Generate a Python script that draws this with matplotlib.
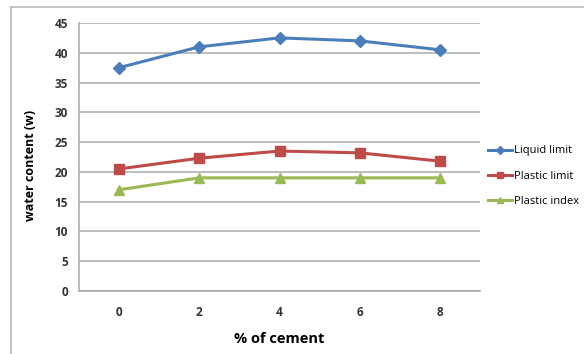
import matplotlib.pyplot as plt
from matplotlib.lines import Line2D

# data
cement = [0, 2, 4, 6, 8]
liquid_limit = [37.5, 41.0, 42.5, 42.0, 40.5]
plastic_limit = [20.5, 22.3, 23.5, 23.2, 21.8]
plastic_index = [17.0, 19.0, 19.0, 19.0, 19.0]

plt.rcParams['font.family'] = ['Open Sans', 'DejaVu Sans']

fig = plt.figure(figsize=(5.84, 3.54), dpi=100)
ax = fig.add_axes([79/584, 63/354, 401/584, 268/354])

ax.plot(cement, liquid_limit, color='#4a7ebb', lw=2.2, marker='D', ms=6, label='Liquid limit')
ax.plot(cement, plastic_limit, color='#be4b48', lw=2.2, marker='s', ms=7, label='Plastic limit')
ax.plot(cement, plastic_index, color='#98b954', lw=2.2, marker='^', ms=7, label='Plastic index')

ax.set_xlim(-1, 9)
ax.set_ylim(0, 45)
ax.set_yticks(range(0, 46, 5))
ax.set_xticks(cement)
ax.grid(axis='y', color='#b0b0b0', lw=1.2)
ax.set_axisbelow(True)
for s in ['top', 'right']:
    ax.spines[s].set_visible(False)
for s in ['left', 'bottom']:
    ax.spines[s].set_color('#b0b0b0')
    ax.spines[s].set_linewidth(1.2)
ax.tick_params(axis='y', length=0, pad=8, labelsize=8.5, labelcolor='#333333')
ax.tick_params(axis='x', length=0, pad=11, labelsize=8.5, labelcolor='#333333')
for t in ax.get_xticklabels() + ax.get_yticklabels():
    t.set_fontweight('bold')

ax.set_ylabel('water content (w)', fontsize=9, fontweight='bold')
ax.yaxis.set_label_coords(-42/401, 0.47)
ax.set_xlabel('% of cement', fontsize=10.5, fontweight='bold', labelpad=9)

fig.legend(loc='upper left', bbox_to_anchor=(484/584, 1 - 141/354), frameon=False,
           fontsize=8, handlelength=2.1, labelspacing=1.3, handletextpad=0.2,
           markerscale=0.7, borderaxespad=0)

# chart border
fig.add_artist(Line2D([11/584, 11/584], [0, 1 - 7/354], color='#bbbbbb', lw=1.2))
fig.add_artist(Line2D([11/584, 1], [1 - 7/354, 1 - 7/354], color='#bbbbbb', lw=1.2))

fig.savefig('out.png', dpi=100)
